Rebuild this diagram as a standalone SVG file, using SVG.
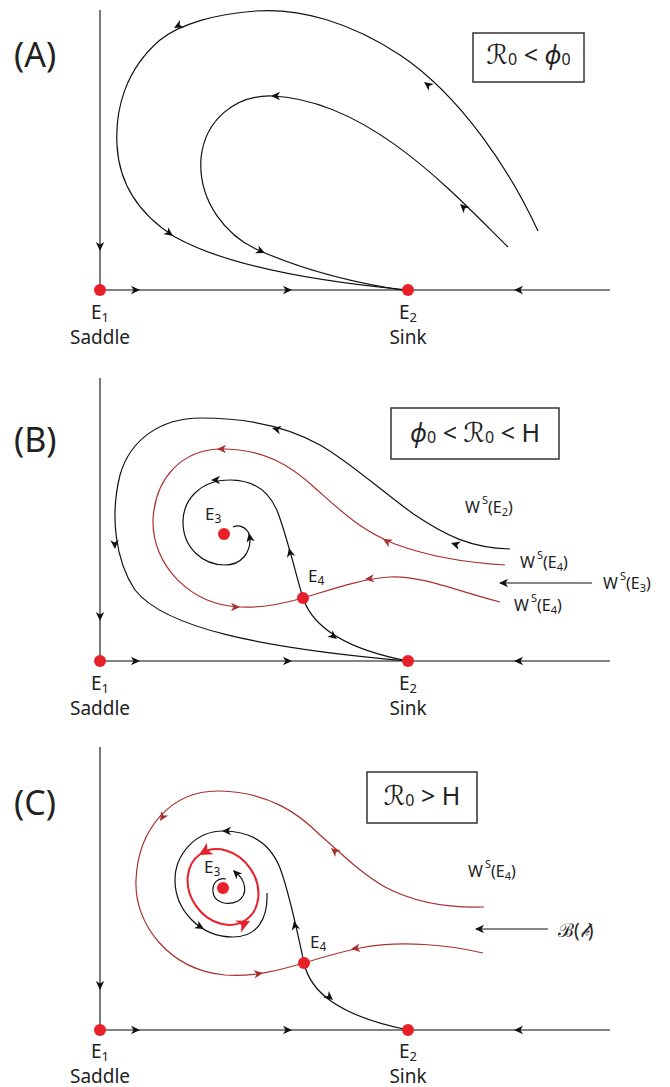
<svg xmlns="http://www.w3.org/2000/svg" xmlns:xlink="http://www.w3.org/1999/xlink" width="670" height="1087" viewBox="0 0 670 1087">
<style>
.ax{stroke:#5a5a5a;stroke-width:1.6;fill:none}
.bk{stroke:#111;stroke-width:1.2;fill:none}
.rd{stroke:#a8312f;stroke-width:1.2;fill:none}
.lc{stroke:#e8202a;stroke-width:2;fill:none}
.dot{fill:#e8202a}
.box{fill:#fff;stroke:#333;stroke-width:1.5}
text{font-family:"Noto Sans","DejaVu Sans",sans-serif;fill:#222}
.lab{font-size:19px}
.pl{font-size:34px}
.eq{font-size:25px}
.el{font-size:17px}
.ws{font-size:16px}
.sub{font-size:12px}
.sup{font-size:11px}
.cal{font-family:"DejaVu Sans",sans-serif;font-size:27px}
</style>
<defs>
<path id="ah" d="M0,0 L-9,-4.2 L-6.5,0 L-9,4.2 Z" fill="#111"/>
<path id="ahr" d="M0,0 L-9,-4.2 L-6.5,0 L-9,4.2 Z" fill="#a8312f"/>
<path id="ahb" d="M0,0 L-13,-6.5 L-9.5,0 L-13,6.5 Z" fill="#e8202a"/>
</defs>

<!-- Panel labels and boxes -->
<g id="label-A"><text class="pl" x="14" y="67">(A)</text></g>
<g id="label-B"><text class="pl" x="14" y="452">(B)</text></g>
<g id="label-C"><text class="pl" x="14" y="815">(C)</text></g>

<g id="box-A">
<rect class="box" x="473" y="33" width="111" height="49"/>
<text class="eq" x="528.5" y="64" text-anchor="middle"><tspan class="cal">ℛ</tspan><tspan font-size="16" dy="1">0</tspan><tspan dy="-1"> &lt; </tspan><tspan font-style="italic">ϕ</tspan><tspan font-size="16" dy="1">0</tspan></text>
</g>
<g id="box-B">
<rect class="box" x="391" y="408" width="168" height="51"/>
<text class="eq" x="475" y="442" text-anchor="middle"><tspan font-style="italic">ϕ</tspan><tspan font-size="16" dy="1">0</tspan><tspan dy="-1"> &lt; </tspan><tspan class="cal">ℛ</tspan><tspan font-size="16" dy="1">0</tspan><tspan dy="-1"> &lt; H</tspan></text>
</g>
<g id="box-C">
<rect class="box" x="367" y="772" width="110" height="51"/>
<text class="eq" x="422" y="805" text-anchor="middle"><tspan class="cal">ℛ</tspan><tspan font-size="16" dy="1">0</tspan><tspan dy="-1"> &gt; H</tspan></text>
</g>

<!-- Connectors -->
<g id="connectors">
<!-- Panel A -->
<line class="ax" x1="100" y1="10" x2="100" y2="290"/>
<line class="ax" x1="100" y1="290" x2="610" y2="290"/>
<path class="bk" d="M538,231 C510,170 460,95 400,55 C350,22 300,8 256,11 C215,14 180,24 160,40 C125,70 115,110 117,145 C119,185 140,215 175,237 C220,262 300,280 408,290"/>
<path class="bk" d="M508,247 C455,195 370,100 272,96 C235,95 205,120 201,158 C198,200 225,238 265,253 C310,272 360,284 408,291"/>
<use xlink:href="#ah" transform="translate(100,251) rotate(90)"/>
<use xlink:href="#ah" transform="translate(140,290)"/>
<use xlink:href="#ah" transform="translate(292,290)"/>
<use xlink:href="#ah" transform="translate(514,290) rotate(180)"/>
<use xlink:href="#ah" transform="translate(424,82) rotate(-143)"/>
<use xlink:href="#ah" transform="translate(174,28) rotate(152)"/>
<use xlink:href="#ah" transform="translate(173,236) rotate(36)"/>
<use xlink:href="#ah" transform="translate(460,204) rotate(-137)"/>
<use xlink:href="#ah" transform="translate(271,96) rotate(180)"/>
<use xlink:href="#ah" transform="translate(265,253) rotate(24)"/>

<!-- Panel B -->
<line class="ax" x1="100" y1="378" x2="100" y2="661"/>
<line class="ax" x1="100" y1="661" x2="610" y2="661"/>
<path class="bk" d="M510,549 C470,548 445,535 415,515 C390,498 350,462 320,445 C290,428 250,418 201,418 C160,418 130,440 120,475 C110,515 115,560 135,590 C165,628 260,648 408,661"/>
<path class="rd" d="M505,565 C470,563 430,557 395,544 C360,530 340,510 315,488 C290,465 265,450 225,449 C180,448 155,480 153,520 C152,565 190,605 240,607 C265,608 285,603 303,598"/>
<path class="rd" d="M500,602 C460,592 420,575 390,577 C360,579 330,590 303,598"/>
<path class="bk" d="M303,598 C296,575 288,540 278,513 C270,492 255,480 230,480 C200,480 183,500 183,522 C183,548 203,565 225,565 C242,565 250,552 250,540 C250,528 240,524 233,527"/>
<path class="bk" d="M303,598 C312,625 340,648 408,661"/>
<line class="bk" x1="592" y1="583" x2="500" y2="583"/>
<use xlink:href="#ah" transform="translate(499,583) rotate(180)"/>
<use xlink:href="#ah" transform="translate(100,621) rotate(90)"/>
<use xlink:href="#ah" transform="translate(140,661)"/>
<use xlink:href="#ah" transform="translate(292,661)"/>
<use xlink:href="#ah" transform="translate(514,661) rotate(180)"/>
<use xlink:href="#ah" transform="translate(451,543) rotate(-163)"/>
<use xlink:href="#ah" transform="translate(272,428) rotate(-166)"/>
<use xlink:href="#ah" transform="translate(115,549) rotate(87)"/>
<use xlink:href="#ahr" transform="translate(383,539) rotate(-150)"/>
<use xlink:href="#ahr" transform="translate(217,449) rotate(180)"/>
<use xlink:href="#ahr" transform="translate(240,607) rotate(0)"/>
<use xlink:href="#ahr" transform="translate(365,579) rotate(176)"/>
<use xlink:href="#ah" transform="translate(289,548) rotate(-103)"/>
<use xlink:href="#ah" transform="translate(211,480) rotate(180)"/>
<use xlink:href="#ah" transform="translate(249,533) rotate(-100)"/>
<use xlink:href="#ah" transform="translate(337,639) rotate(38)"/>

<!-- Panel C -->
<line class="ax" x1="100" y1="747" x2="100" y2="1030"/>
<line class="ax" x1="100" y1="1030" x2="610" y2="1030"/>
<path class="rd" d="M484,907 C450,908 415,903 385,887 C360,873 340,852 320,835 C300,815 270,792 220,791 C170,790 138,830 136,880 C134,925 170,970 225,975 C255,977 280,970 304,963"/>
<path class="rd" d="M483,953 C450,945 400,940 360,948 C340,952 320,958 304,963"/>
<path class="bk" d="M304,963 C298,935 290,895 280,868 C270,843 250,831 223,831 C195,831 175,855 175,880 C175,910 200,937 233,937 C258,937 268,918 267,893"/>
<ellipse class="lc" cx="223" cy="887" rx="40" ry="33" transform="rotate(55 223 887)"/>
<path class="bk" d="M226,879 C218,877 212,883 213,892 C214,903 228,906 238,901 C248,895 247,880 234,871"/>
<path class="bk" d="M304,963 C310,990 335,1015 408,1030"/>
<line class="bk" x1="548" y1="929" x2="476" y2="929"/>
<use xlink:href="#ah" transform="translate(475,929) rotate(180)"/>
<use xlink:href="#ah" transform="translate(100,990) rotate(90)"/>
<use xlink:href="#ah" transform="translate(140,1030)"/>
<use xlink:href="#ah" transform="translate(292,1030)"/>
<use xlink:href="#ah" transform="translate(514,1030) rotate(180)"/>
<use xlink:href="#ahr" transform="translate(331,848) rotate(-140)"/>
<use xlink:href="#ahr" transform="translate(160,821) rotate(122)"/>
<use xlink:href="#ahr" transform="translate(263,973) rotate(-8)"/>
<use xlink:href="#ahr" transform="translate(351,949) rotate(172)"/>
<use xlink:href="#ah" transform="translate(294,921) rotate(-102)"/>
<use xlink:href="#ah" transform="translate(222,831) rotate(180)"/>
<use xlink:href="#ah" transform="translate(204,929) rotate(30)"/>
<use xlink:href="#ah" transform="translate(233,870) rotate(-135)"/>
<use xlink:href="#ah" transform="translate(333,1000) rotate(40)"/>
<use xlink:href="#ahb" transform="translate(199,855) rotate(150)"/>
<use xlink:href="#ahb" transform="translate(250,921) rotate(-25)"/>
</g>

<!-- Nodes -->
<g id="A-E1"><circle class="dot" cx="100" cy="290" r="6"/><text class="lab" x="100" y="319" text-anchor="middle">E<tspan font-size="13" dy="3">1</tspan></text><text class="lab" x="100" y="344" text-anchor="middle">Saddle</text></g>
<g id="A-E2"><circle class="dot" cx="408" cy="290" r="6"/><text class="lab" x="408" y="319" text-anchor="middle">E<tspan font-size="13" dy="3">2</tspan></text><text class="lab" x="408" y="344" text-anchor="middle">Sink</text></g>

<g id="B-E1"><circle class="dot" cx="100" cy="661" r="6"/><text class="lab" x="100" y="690" text-anchor="middle">E<tspan font-size="13" dy="3">1</tspan></text><text class="lab" x="100" y="715" text-anchor="middle">Saddle</text></g>
<g id="B-E2"><circle class="dot" cx="408" cy="661" r="6"/><text class="lab" x="408" y="690" text-anchor="middle">E<tspan font-size="13" dy="3">2</tspan></text><text class="lab" x="408" y="715" text-anchor="middle">Sink</text></g>
<g id="B-E3"><circle class="dot" cx="224" cy="534" r="6"/><text class="el" x="205" y="520">E<tspan class="sub" dy="3">3</tspan></text></g>
<g id="B-E4"><circle class="dot" cx="303" cy="598" r="6"/><text class="el" x="308" y="582">E<tspan class="sub" dy="3">4</tspan></text></g>
<g id="B-WsE2"><text class="ws" x="465" y="513">W<tspan class="sup" dx="2" dy="-9">S</tspan><tspan dy="9">(E</tspan><tspan class="sup" dy="3">2</tspan><tspan dy="-3">)</tspan></text></g>
<g id="B-WsE4a"><text class="ws" x="520" y="568">W<tspan class="sup" dx="2" dy="-9">S</tspan><tspan dy="9">(E</tspan><tspan class="sup" dy="3">4</tspan><tspan dy="-3">)</tspan></text></g>
<g id="B-WsE3"><text class="ws" x="603" y="589">W<tspan class="sup" dx="2" dy="-9">S</tspan><tspan dy="9">(E</tspan><tspan class="sup" dy="3">3</tspan><tspan dy="-3">)</tspan></text></g>
<g id="B-WsE4b"><text class="ws" x="514" y="611">W<tspan class="sup" dx="2" dy="-9">S</tspan><tspan dy="9">(E</tspan><tspan class="sup" dy="3">4</tspan><tspan dy="-3">)</tspan></text></g>

<g id="C-E1"><circle class="dot" cx="100" cy="1030" r="6"/><text class="lab" x="100" y="1058" text-anchor="middle">E<tspan font-size="13" dy="3">1</tspan></text><text class="lab" x="100" y="1083" text-anchor="middle">Saddle</text></g>
<g id="C-E2"><circle class="dot" cx="408" cy="1030" r="6"/><text class="lab" x="408" y="1058" text-anchor="middle">E<tspan font-size="13" dy="3">2</tspan></text><text class="lab" x="408" y="1083" text-anchor="middle">Sink</text></g>
<g id="C-E3"><circle class="dot" cx="223" cy="888" r="6"/><text class="el" x="204" y="873">E<tspan class="sub" dy="3">3</tspan></text></g>
<g id="C-E4"><circle class="dot" cx="304" cy="963" r="6"/><text class="el" x="310" y="948">E<tspan class="sub" dy="3">4</tspan></text></g>
<g id="C-WsE4"><text class="ws" x="468" y="877">W<tspan class="sup" dx="2" dy="-9">S</tspan><tspan dy="9">(E</tspan><tspan class="sup" dy="3">4</tspan><tspan dy="-3">)</tspan></text></g>
<g id="C-Bb"><text x="558" y="937" font-size="19" font-family="DejaVu Sans, sans-serif">ℬ(<tspan font-style="italic">𝒷</tspan>)</text></g>
</svg>
